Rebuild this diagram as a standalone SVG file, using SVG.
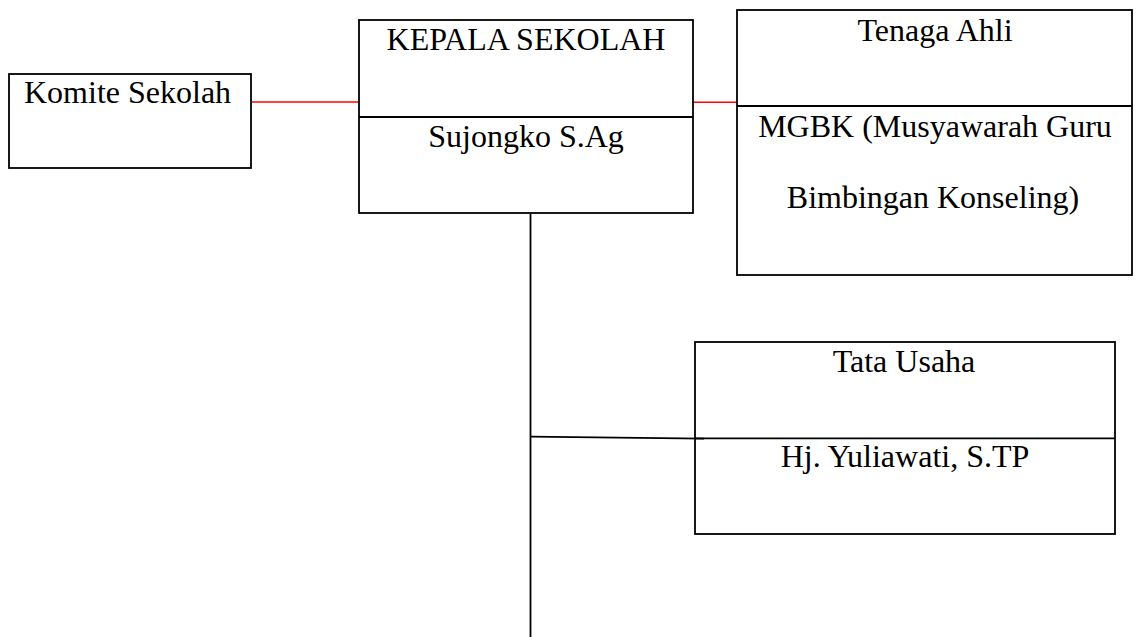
<svg xmlns="http://www.w3.org/2000/svg" width="1136" height="637" viewBox="0 0 1136 637">
<style>
.box{fill:#fff;stroke:#000;stroke-width:1.8}
.div{stroke:#000;stroke-width:1.8}
.t{font-family:"Liberation Serif","Times New Roman",serif;font-size:32px;fill:#000}
.c{text-anchor:middle}
.red{stroke:#ff0000;stroke-width:1.6;fill:none}
.blk{stroke:#000;stroke-width:1.8;fill:none}
</style>
<rect width="1136" height="637" fill="#fff"/>
<g id="komite">
<rect class="box" x="9" y="74" width="242" height="94"/>
<text class="t" x="24" y="103">Komite Sekolah</text>
</g>
<g id="kepala">
<rect class="box" x="359" y="20" width="334" height="193"/>
<line class="div" x1="359" y1="117" x2="693" y2="117"/>
<text class="t c" x="526" y="50">KEPALA SEKOLAH</text>
<text class="t c" x="526" y="147">Sujongko S.Ag</text>
</g>
<g id="tenaga">
<rect class="box" x="737" y="10" width="395" height="265"/>
<line class="div" x1="737" y1="106" x2="1132" y2="106"/>
<text class="t c" x="935" y="41">Tenaga Ahli</text>
<text class="t c" x="935" y="137">MGBK (Musyawarah Guru</text>
<text class="t c" x="933" y="208">Bimbingan Konseling)</text>
</g>
<g id="tatausaha">
<rect class="box" x="695" y="342" width="420" height="192"/>
<line class="div" x1="695" y1="438.3" x2="1115" y2="438.3"/>
<text class="t c" x="904" y="372">Tata Usaha</text>
<text class="t c" x="905" y="467">Hj. Yuliawati, S.TP</text>
</g>
<g id="connectors">
<line class="red" x1="252" y1="102" x2="358" y2="102"/>
<line class="red" x1="694" y1="102.3" x2="736" y2="102.3"/>
<line class="blk" x1="530.5" y1="214" x2="530.5" y2="637"/>
<line class="blk" x1="530.5" y1="436.7" x2="704" y2="438.7"/>
</g>
</svg>
